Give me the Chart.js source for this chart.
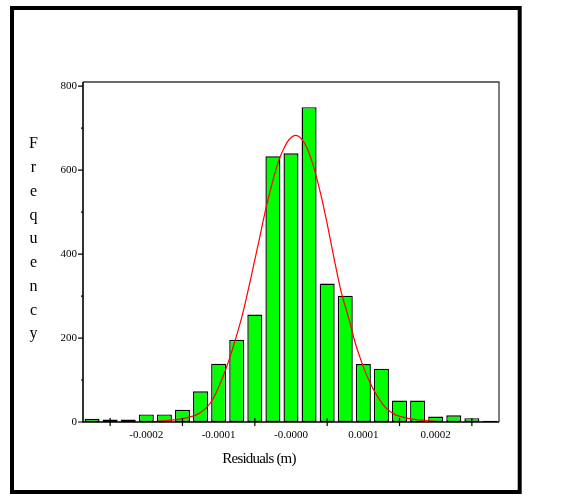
<!DOCTYPE html>
<html>
<head>
<meta charset="utf-8">
<script src="https://cdn.jsdelivr.net/npm/chart.js@4"></script>
<style>
  html, body { margin: 0; padding: 0; background: #fff; }
  #wrap { width: 573px; height: 498px; }
</style>
</head>
<body>
<div id="wrap"><canvas id="histChart" width="573" height="498"></canvas></div>
<script>
  // histogram of residuals: bin centres (m) and counts per bin
  const binCenters = [
    -0.0002785, -0.0002535, -0.0002285, -0.0002035, -0.0001785, -0.0001535,
    -0.0001285, -0.0001035, -0.0000785, -0.0000535, -0.0000285, -0.0000035,
     0.0000215,  0.0000465,  0.0000715,  0.0000965,  0.0001215,  0.0001465,
     0.0001715,  0.0001965,  0.0002215,  0.0002465,  0.0002715
  ];
  const counts = [8, 6, 6, 18, 18, 29, 73, 139, 196, 256, 633, 640, 750, 330, 301, 138, 127, 51, 51, 13, 16, 9, 3];

  // fitted normal curve, sampled points (x in m, frequency)
  const curveX = [
    -0.000193, -0.000186, -0.000172, -0.000158, -0.000145, -0.000131, -0.000121, -0.000112,
    -0.000103, -0.000094, -0.000085, -0.000078, -0.000070, -0.000059, -0.000048, -0.000038,
    -0.000027, -0.000020, -0.000013, -0.000006,  0.000003,  0.000015,  0.000026,  0.000038,
     0.000047,  0.000056,  0.000065,  0.000077,  0.000084,  0.000093,  0.000104,  0.000116,
     0.000128,  0.000141,  0.000155,  0.000174,  0.000187,  0.000201
  ];
  const curveY = [
    0.5, 2, 4, 7, 11, 20, 33, 53,
    85, 124, 170, 210, 260, 343, 430, 510,
    585, 625, 653, 673, 683, 665, 618, 540,
    468, 390, 316, 243, 196, 148, 100, 61,
    33, 17, 10, 5, 3, 1
  ];

  // axis ticks
  const xLabelValues = [-0.0002035, -0.0001035, -0.0000035, 0.0000965, 0.0001965];
  const xTickLabels = ['-0.0002', '-0.0001', '-0.0000', '0.0001', '0.0002'];
  const xMarkValues = [-0.0002535, -0.0001535, -0.0000535, 0.0000465, 0.0001465, 0.0002465];
  const yLabelValues = [0, 200, 400, 600, 800];
  const yMinorValues = [100, 300, 500, 700];

  const serif = "'Liberation Serif', 'Times New Roman', serif";

  // outer frame, plot box, tick marks and the axis titles
  const framePlugin = {
    id: 'frame',
    beforeDraw(chart) {
      const ctx = chart.ctx;
      ctx.save();
      ctx.fillStyle = '#fff';
      ctx.fillRect(0, 0, chart.width, chart.height);
      ctx.strokeStyle = '#000';
      ctx.lineWidth = 4;
      ctx.strokeRect(12, 8, 507.7, 484);
      ctx.restore();
    },
    afterDatasetsDraw(chart) {
      const ctx = chart.ctx;
      const a = chart.chartArea;
      const xs = chart.scales.x, ys = chart.scales.y;
      ctx.save();
      // top and right edges of the plot box
      ctx.strokeStyle = '#3a3a3a';
      ctx.lineWidth = 1.3;
      ctx.beginPath();
      ctx.moveTo(a.left, a.top); ctx.lineTo(a.right, a.top); ctx.lineTo(a.right, a.bottom);
      ctx.stroke();
      // axes
      ctx.strokeStyle = '#000';
      ctx.lineWidth = 1.6;
      ctx.beginPath();
      ctx.moveTo(a.left, a.top); ctx.lineTo(a.left, a.bottom); ctx.lineTo(a.right, a.bottom);
      ctx.stroke();
      // tick marks
      ctx.lineWidth = 1.2;
      ctx.beginPath();
      yLabelValues.forEach(v => {
        const y = ys.getPixelForValue(v);
        ctx.moveTo(a.left, y); ctx.lineTo(a.left - 5, y);
      });
      yMinorValues.forEach(v => {
        const y = ys.getPixelForValue(v);
        ctx.moveTo(a.left, y); ctx.lineTo(a.left - 2, y);
      });
      xMarkValues.forEach(v => {
        const x = xs.getPixelForValue(v);
        ctx.moveTo(x, a.bottom - 4); ctx.lineTo(x, a.bottom + 4);
      });
      ctx.stroke();

      // axis titles
      ctx.fillStyle = '#000';
      ctx.textAlign = 'center';
      ctx.textBaseline = 'alphabetic';
      ctx.font = '15px ' + serif;
      if ('letterSpacing' in ctx) ctx.letterSpacing = '-0.8px';
      ctx.fillText('Residuals (m)', 259, 462.5);
      if ('letterSpacing' in ctx) ctx.letterSpacing = '0px';
      ctx.font = '16px ' + serif;
      'Frequency'.split('').forEach((ch, i) => {
        ctx.fillText(ch, 33.5, 148.3 + i * 23.75);
      });
      ctx.restore();
    }
  };

  const ctx = document.getElementById('histChart').getContext('2d');
  const histChart = new Chart(ctx, {
    type: 'bar',
    data: {
      datasets: [{
        type: 'line',
        data: curveX.map((x, i) => ({ x: x, y: curveY[i] })),
        borderColor: '#ff0000',
        borderWidth: 1.2,
        pointRadius: 0,
        fill: false,
        cubicInterpolationMode: 'monotone',
        order: 0
      }, {
        data: binCenters.map((x, i) => ({ x: x, y: counts[i] })),
        backgroundColor: '#00ff00',
        borderColor: '#000',
        borderWidth: 1.4,
        borderSkipped: false,
        barPercentage: 0.83,
        categoryPercentage: 1,
        order: 1
      }]
    },
    options: {
      responsive: false,
      animation: false,
      events: [],
      layout: { padding: { left: 0, top: 82, right: 74, bottom: 46 } },
      plugins: {
        legend: { display: false },
        tooltip: { enabled: false }
      },
      scales: {
        x: {
          type: 'linear',
          offset: false,
          min: -0.000291,
          max: 0.000284,
          grid: { display: false, drawTicks: false },
          border: { display: false },
          afterBuildTicks: axis => { axis.ticks = xLabelValues.map(v => ({ value: v })); },
          afterFit: axis => { axis.height = 30; },
          ticks: {
            autoSkip: false,
            maxRotation: 0,
            padding: 7,
            color: '#000',
            font: { family: serif, size: 11 },
            callback: (value, index) => xTickLabels[index]
          }
        },
        y: {
          min: 0,
          max: 810,
          grid: { display: false, drawTicks: false },
          border: { display: false },
          afterBuildTicks: axis => { axis.ticks = yLabelValues.map(v => ({ value: v })); },
          afterFit: axis => { axis.width = 83; },
          ticks: {
            padding: 6,
            color: '#000',
            font: { family: serif, size: 11 }
          }
        }
      }
    },
    plugins: [framePlugin]
  });
</script>
</body>
</html>
